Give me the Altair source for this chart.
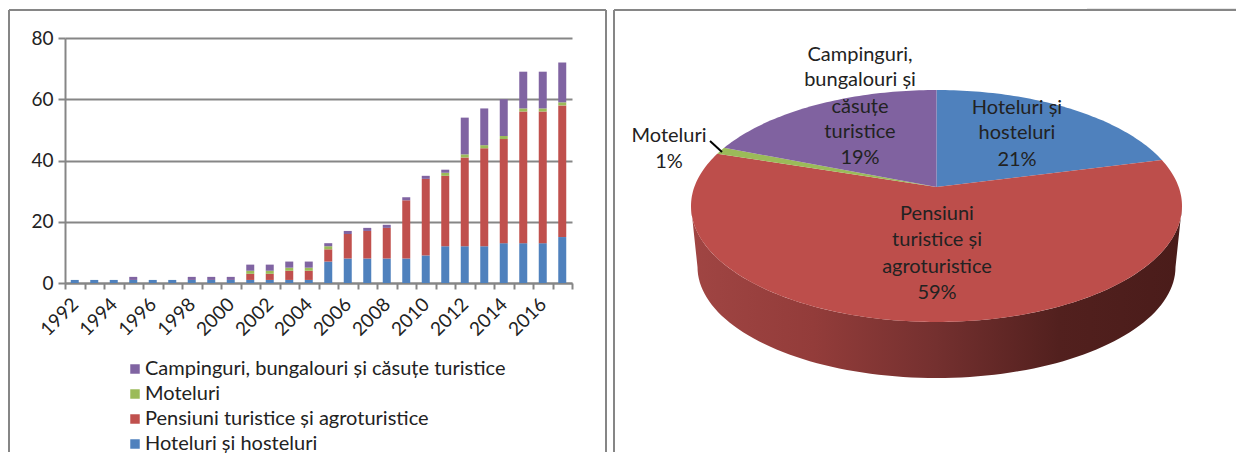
import math
import altair as alt
import pandas as pd

years = [str(y) for y in range(1992, 2018)]
hoteluri = [1,1,1,1,1,1,1,1,1,1,1,1,1,7,8,8,8,8,9,12,12,12,13,13,13,15]
pensiuni = [0,0,0,0,0,0,0,0,0,2,2,3,3,4,8,9,10,19,25,23,29,32,34,43,43,43]
moteluri = [0,0,0,0,0,0,0,0,0,1,1,1,1,1,0,0,0,0,0,1,1,1,1,1,1,1]
campinguri = [0,0,0,1,0,0,1,1,1,2,2,2,2,1,1,1,1,1,1,1,12,12,12,12,12,13]

names = ["Campinguri, bungalouri și căsuțe turistice", "Moteluri",
         "Pensiuni turistice și agroturistice", "Hoteluri și hosteluri"]
bar_colors = ["#8064a2", "#9bbb59", "#c0504d", "#4f81bd"]

pie_names = ["Hoteluri și hosteluri", "Pensiuni turistice și agroturistice", "Moteluri",
             "Campinguri, bungalouri și căsuțe turistice"]
pie_shares = [21, 59, 1, 19]
pie_colors = ["#4f81bd", "#bd4e4b", "#9bbb59", "#8062a0"]

FONT = "Lato"
GREY = "#868686"
TEXT = "#222222"

rows = []
for s_order, (nm, vals) in enumerate(zip(names[::-1], [hoteluri, pensiuni, moteluri, campinguri])):
    for yr, v in zip(years, vals):
        rows.append({"year": yr, "series": nm, "value": v, "o": s_order})
df = pd.DataFrame(rows)

bars = alt.Chart(df).mark_bar(size=8).encode(
    x=alt.X("year:N", title=None, sort=years,
            scale=alt.Scale(paddingInner=0, paddingOuter=0),
            axis=alt.Axis(labelAngle=-45, labelAlign="right", labelBaseline="middle",
                          labelFont=FONT, labelFontSize=19, labelColor=TEXT, labelPadding=12,
                          labelExpr="parseInt(datum.label) % 2 == 0 ? datum.label : ''",
                          labelOverlap=False, tickBand="extent", tickSize=6, tickWidth=2,
                          tickColor=GREY, domainColor=GREY, domainWidth=2, grid=False)),
    y=alt.Y("value:Q", title=None, stack="zero",
            scale=alt.Scale(domain=[0, 80], nice=False),
            axis=alt.Axis(values=[0, 20, 40, 60, 80], labelFont=FONT, labelFontSize=19,
                          labelColor=TEXT, labelPadding=5, tickSize=7, tickWidth=2,
                          tickColor=GREY, domainColor=GREY, domainWidth=2, grid=True,
                          gridColor=GREY, gridWidth=2)),
    color=alt.Color("series:N", scale=alt.Scale(domain=names, range=bar_colors),
                    legend=alt.Legend(title=None, orient="none", legendX=60, legendY=321,
                                      symbolType="square", symbolSize=90, symbolStrokeWidth=0,
                                      labelFont=FONT, labelFontSize=20, labelColor=TEXT, padding=0,
                                      rowPadding=5, labelOffset=0, labelLimit=500)),
    order=alt.Order("o:Q"),
)

PW, PH = 507, 245
def seg(x, y, x2, y2, w=2, c=GREY):
    return alt.Chart(pd.DataFrame({"k": [0]})).mark_rule(color=c, strokeWidth=w).encode(
        x=alt.value(x), x2=alt.value(x2), y=alt.value(y), y2=alt.value(y2))

left = alt.layer(
    seg(-56, -28, 541, -28), seg(-56, -28, -56, 414), seg(541, -28, 541, 414),
    bars,
).properties(width=PW, height=PH)

# Pie drawn as an oblique disc
CX, CY, A, B, APEX = 323.5, 168.0, 245.5, 116.0, 149.0
CX2, CY2, A2, B2 = 323.5, 229.0, 239.0, 111.0
d = (CY - APEX) / B
r = d / (1 + math.sqrt(1 - d * d))

def rim_angle(phi):
    z = complex(math.cos(phi), math.sin(phi))
    w = (z + r) / (1 + r * z)
    return math.atan2(w.imag, w.real)

def pt(t, cx=CX, cy=CY, a=A, b=B):
    return [cx + a * math.sin(t), cy - b * math.cos(t)]

features = []
cum = 0
for nm, share, col in zip(pie_names, pie_shares, pie_colors):
    coords = [[CX, APEX]]
    n = max(3, int(share * 3))
    for i in range(n + 1):
        phi = 2 * math.pi * (cum + share * i / n) / sum(pie_shares)
        coords.append(pt(rim_angle(phi)))
    coords.append([CX, APEX])
    features.append({"type": "Feature", "properties": {"name": nm, "color": col},
                     "geometry": {"type": "Polygon", "coordinates": [coords]}})
    cum += share

wall = []
for i in range(0, 181, 2):
    wall.append(pt(math.radians(90 + i)))
for i in range(180, -1, -2):
    wall.append(pt(math.radians(90 + i), CX2, CY2, A2, B2))
wall.append(wall[0])
wall_feature = [{"type": "Feature", "properties": {"name": "side"},
                 "geometry": {"type": "Polygon", "coordinates": [wall]}}]

wall_fill = alt.Gradient(gradient="linear", x1=0, x2=1, y1=0, y2=0, stops=[
    alt.GradientStop(color="#a04543", offset=0),
    alt.GradientStop(color="#933c3a", offset=0.25),
    alt.GradientStop(color="#74302f", offset=0.5),
    alt.GradientStop(color="#52201e", offset=0.75),
    alt.GradientStop(color="#4a1c1a", offset=1),
])
proj = dict(type="identity", scale=1, translate=[0, 0])
wall_layer = alt.Chart(alt.Data(values=wall_feature)).mark_geoshape(
    fill=wall_fill, strokeWidth=0).project(**proj)
top_layer = alt.Chart(alt.Data(values=features)).mark_geoshape(strokeWidth=0).encode(
    fill=alt.Fill("properties.color:N", scale=None)).project(**proj)

label_lines = [
    ("Campinguri,", 247, 17), ("bungalouri și", 247, 42), ("căsuțe", 247, 69),
    ("turistice", 247, 94), ("19%", 247, 120),
    ("Hoteluri și", 404, 70), ("hosteluri", 404, 95), ("21%", 404, 122),
    ("Pensiuni", 324, 176), ("turistice și", 324, 202), ("agroturistice", 324, 229), ("59%", 324, 255),
    ("Moteluri", 56, 98), ("1%", 56, 124),
]
labels = alt.Chart(pd.DataFrame(label_lines, columns=["t", "px", "py"])).mark_text(
    font=FONT, fontSize=20, color=TEXT, align="center", baseline="middle").encode(
    text="t:N", x=alt.X("px:Q", scale=None), y=alt.Y("py:Q", scale=None))

right = alt.layer(
    seg(1, -28, 1, 414), seg(1, -28, 623, -28),
    seg(474, -29.5, 623, -29.5, 1, "#e8e8e8"),
    wall_layer, top_layer,
    seg(97, 103, 109, 114, 2, "#000000"),
    labels,
).properties(width=623, height=414)

chart = alt.hconcat(left, right, spacing=6).properties(padding=0).configure_view(stroke=None)
chart.save("out.html", embed_options={"renderer": "svg", "actions": False})
